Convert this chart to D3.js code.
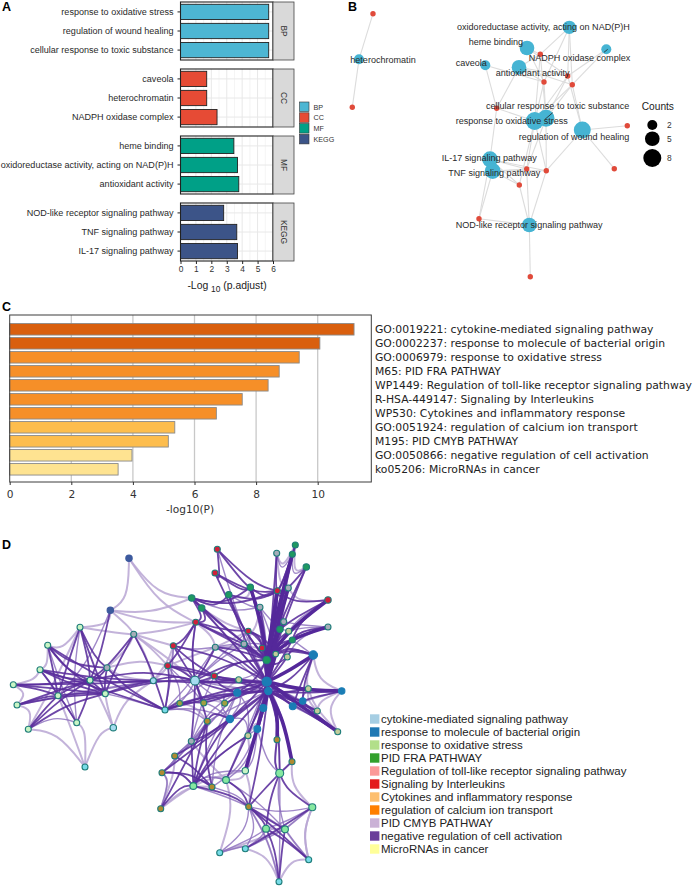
<!DOCTYPE html>
<html><head><meta charset="utf-8">
<script src="https://cdn.jsdelivr.net/npm/d3@7"></script>
<style>html,body{margin:0;padding:0;background:#fff}svg{display:block}
text{font-family:"Liberation Sans",Arial,sans-serif}</style></head><body>
<svg id="c" width="694" height="886"></svg>
<script>
// ---------- Panel A data
const facets=["BP","CC","MF","KEGG"];
const facetColors=["#4db6d3","#e64b35","#00a087","#3c5488"];
const termsBP=["response to oxidative stress","regulation of wound healing","cellular response to toxic substance"];
const valuesBP=[5.72,5.72,5.72];
const termsCC=["caveola","heterochromatin","NADPH oxidase complex"];
const valuesCC=[1.7,1.7,2.37];
const termsMF=["heme binding","oxidoreductase activity, acting on NAD(P)H","antioxidant activity"];
const valuesMF=[3.46,3.7,3.78];
const termsKEGG=["NOD-like receptor signaling pathway","TNF signaling pathway","IL-17 signaling pathway"];
const valuesKEGG=[2.8,3.65,3.7];
// ---------- Panel B data
const bTerms=["heterochromatin","oxidoreductase activity, acting on NAD(P)H","heme binding","NADPH oxidase complex","caveola","antioxidant activity","response to oxidative stress","cellular response to toxic substance","regulation of wound healing","IL-17 signaling pathway","TNF signaling pathway","NOD-like receptor signaling pathway"];
const bCounts=[2,4,5,2,2,5,8,7,7,6,6,5];
const bTermX=[359,569.3,527,606.3,485.3,519,534.7,546,582.3,490,492.7,529.3];
const bTermY=[59.3,27.3,48,49.3,65.3,67.3,121,118.3,130,159.3,171,225];
const bLabelX=[350.3,457,468.7,528.7,455.7,495.7,455.7,486,518.7,441.7,448.3,455.7];
const bLabelY=[59.7,27.3,42.3,57.7,62.7,72.7,121.3,106,136.7,157.7,172.7,225.3];
const bGeneX=[373,352.3,540.3,567.7,572.3,544,496.7,627.3,614.3,526.7,546.3,519.3,479,530.3];
const bGeneY=[13.7,107.3,54.3,76,84.7,82,108.3,125.7,168.7,169,170.7,185,218.7,276.7];
const bEdges=[[0,0],[0,1],[1,2],[1,3],[1,4],[1,5],[2,2],[2,5],[2,3],[3,3],[3,4],[4,6],[4,5],[5,2],[5,5],[5,3],[5,6],[5,4],
[6,2],[6,5],[6,3],[6,4],[6,6],[6,9],[6,10],[6,11],[7,2],[7,5],[7,3],[7,4],[7,10],[7,9],[8,4],[8,7],[8,8],[8,10],[8,3],
[9,6],[9,9],[9,10],[9,11],[9,12],[10,9],[10,10],[10,11],[10,12],[11,9],[11,10],[11,11],[11,12],[11,13]];
const bCountTicks=[2,5,8];
// ---------- Panel C data
const cTerms=["GO:0019221: cytokine-mediated signaling pathway","GO:0002237: response to molecule of bacterial origin","GO:0006979: response to oxidative stress","M65: PID FRA PATHWAY","WP1449: Regulation of toll-like receptor signaling pathway","R-HSA-449147: Signaling by Interleukins","WP530: Cytokines and inflammatory response","GO:0051924: regulation of calcium ion transport","M195: PID CMYB PATHWAY","GO:0050866: negative regulation of cell activation","ko05206: MicroRNAs in cancer"];
const cValues=[11.18,10.07,9.4,8.75,8.39,7.55,6.71,5.36,5.15,3.97,3.52];
const cColors=["#d95f0e","#d95f0e","#f68f28","#f68f28","#f68f28","#f68f28","#f68f28","#fdbd4d","#fdbd4d","#fee391","#fee391"];
const cTicks=[0,2,4,6,8,10];
// ---------- Panel D data
const dLegend=["cytokine-mediated signaling pathway","response to molecule of bacterial origin","response to oxidative stress","PID FRA PATHWAY","Regulation of toll-like receptor signaling pathway","Signaling by Interleukins","Cytokines and inflammatory response","regulation of calcium ion transport","PID CMYB PATHWAY","negative regulation of cell activation","MicroRNAs in cancer"];
const dLegendColors=["#a6cee3","#1f78b4","#b2df8a","#33a02c","#fb9a99","#e31a1c","#fdbf6f","#ff7f00","#cab2d6","#6a3d9a","#ffff99"];
const nodeX=[129,110.3,80,47.7,133.7,173.3,167.7,107,40,90,13.3,153.3,195,105.3,58,17,165,179.7,76.7,113.3,28.3,191.7,195.7,217.3,215,201.7,228.7,250.3,276.7,295.3,292.3,306.3,277.3,288.3,328,260,283.7,328,248.3,280,288.7,292.3,244,262,275.7,287.3,313.3,266.7,215.3,214.3,238.7,266.7,268.3,237.3,308.3,341.7,292.7,302.7,317.3,263.3,230,224.7,203.7,207.3,257.3,248,191.3,277,337.7,174.7,292,162,245.3,279.7,226,193.3,212,160.7,248.7,312.3,266,285,219.7,245.3,308.7,279,85];
const nodeY=[558.3,610.3,627.3,645.3,634.3,645.7,665.7,667.7,669.7,680.3,684.7,680.7,680.7,693.7,695.7,705,710,703.3,722.7,727.7,729.3,598,622.3,549.3,573,608,594.7,587.3,553.3,545,554.3,567,590.7,588,600,607.3,621.7,627,631,629.3,631.3,640,644,648,654,657,655,660,647.3,676,679.7,681.7,691,692.7,688.7,691,706.3,701,711,708,719,703.3,703,721.3,729,735.7,741.3,739.7,731.7,756,761.7,772.7,770.7,773.3,780,786,787,808.7,806.7,807.3,828.7,829.3,852.7,848.7,859.7,881.7,767];
const nodeKind="N N L L Y R R Y L L L S S L L L C O L S L G R R R G G G Y G G G R Y R Y Y Y R G Z G Y R Z Z B G Y R Z B B B Z B B B Z B B O O A B Z Y A Z A A A L M M M A A A M M M C C C C C".split(" ");
const nodeSize=[3.2,3.2,3,3,3,3,3,3,3,3,3,3,4.4,3,3,3,3,2.8,3,3.2,3,3.2,3,3,3,3.2,3.2,3.2,3,3,3,3.2,3,3,3.2,3,3,3,2.8,3.2,3,3,3,2.8,2.8,3,4.2,3.8,3,3,3,4.6,3.6,3.6,3,3.2,3.4,3.2,3,3.4,3.6,3,3,3,3.4,3,3,3,3,3,3,3,3.2,4,3.4,3.4,3,3,3,3.5,3.4,3.4,3,3,3,3,3];
const kindFill={N:"#3d5a9e",B:"#1a7db5",L:"#c8f5c4",G:"#1f9960",R:"#d0203a",Y:"#a5adb8",Z:"#c3cc9a",S:"#a6dcf0",C:"#78dce8",O:"#a0a040",A:"#b08a30",M:"#86e8a0"};
const heavyEdges=[[32,51],[32,47],[33,51],[47,51],[51,52],[46,51],[51,55],[51,68],[52,64],[52,72],[52,67],[27,47],[39,51],[44,51],[52,70],[30,47],[34,47],[37,47]];
const strongEdges=[[10,9],[10,13],[10,11],[3,13],[3,9],[3,14],[8,13],[8,14],[8,9],[15,9],[15,14],[20,9],[20,14],[2,9],[2,14],[2,7],[1,9],[4,9],[9,18],[14,18],[9,11],[13,11],[11,12],[13,12],[3,16],[7,16],[5,12],[6,12],[6,16],[22,5],[22,6],[22,12],[22,21],[22,25],[25,21],[21,27],[21,26],[21,32],[23,24],[23,32],[23,27],[24,32],[24,27],[26,32],[27,32],[28,32],[29,32],[30,32],[31,32],[33,32],[34,32],[34,39],[36,51],[40,51],[41,51],[45,51],[43,51],[38,47],[42,47],[35,51],[27,51],[26,51],[46,47],[46,44],[46,52],[46,45],[52,55],[52,54],[51,58],[52,68],[52,56],[52,57],[51,56],[52,59],[51,59],[53,51],[53,52],[60,52],[60,51],[64,51],[65,51],[67,51],[73,52],[12,49],[12,53],[12,50],[12,51],[49,52],[50,51],[16,62],[16,17],[16,52],[17,52],[61,51],[62,51],[48,51],[48,12],[12,62],[12,63],[63,75],[63,76],[66,75],[66,12],[75,76],[75,65],[75,78],[74,78],[78,80],[78,81],[80,85],[81,85],[80,84],[73,79],[73,80],[71,75],[71,76],[69,76],[77,75],[78,84],[83,79],[77,63],[71,52],[6,51],[5,51],[11,51],[16,51],[49,53],[49,50],[6,49],[5,49],[63,60],[66,60],[75,60],[75,52],[69,60],[78,52],[78,73],[73,67],[73,70],[74,52],[46,56],[46,57],[52,58],[55,57],[68,57],[30,51],[28,51],[29,51],[31,51],[31,47],[24,47],[26,47],[21,47],[25,47],[21,51],[22,42],[22,38],[36,47],[36,44],[39,47],[40,47],[41,47],[44,47],[45,47],[42,51],[38,44],[38,43],[34,41],[37,41],[48,47],[49,47],[53,47],[12,47],[22,47],[3,7],[7,9],[7,13],[2,13],[4,13],[4,16],[8,16],[9,13],[9,14],[10,14],[15,13],[20,13],[14,13],[9,12],[8,11]];
const midEdges=[[25,51],[21,35],[28,30],[29,30],[30,31],[38,51],[43,47],[41,46],[60,53],[65,60],[72,64],[72,75],[74,64],[66,63],[69,66],[69,71],[71,77],[75,74],[76,78],[79,80],[79,81],[79,78],[81,84],[82,80],[83,80],[83,81],[82,83],[83,78],[12,52],[49,51],[5,16],[48,52],[48,16],[16,63],[61,53],[62,53],[17,12],[61,12],[50,49],[35,47],[26,35],[38,42],[36,39],[40,39],[70,51],[72,51],[73,51],[58,52],[54,51],[57,51],[56,57],[49,16],[5,48],[6,17],[6,62],[17,53],[50,52],[16,60],[62,60],[61,60],[63,52],[66,53],[66,49],[75,53],[75,64],[76,64],[76,53],[65,53],[74,51],[73,64],[71,53],[71,66],[69,63],[69,53],[74,81],[75,81],[85,73],[85,78],[81,73],[82,78],[55,56],[68,56],[54,52],[54,57],[32,39],[32,44],[33,47],[23,51],[35,39],[35,44],[42,44],[43,44],[43,45],[34,40],[37,40],[37,36],[37,45],[48,42],[48,44],[50,47],[12,42],[12,38],[22,12],[2,18],[1,14],[3,18],[8,18],[20,18],[13,16],[14,11],[15,11]];
const faintEdges=[[0,1],[0,21],[0,22],[1,2],[1,4],[1,22],[2,3],[2,4],[4,5],[4,22],[4,6],[4,7],[8,3],[8,10],[10,15],[15,20],[20,2],[19,11],[19,9],[13,19],[7,11],[7,6],[86,19],[86,20],[86,14],[86,18],[82,74],[84,79],[85,84],[77,69],[77,71],[79,81],[81,80],[28,33],[29,31],[28,29],[30,33],[34,33],[37,41],[58,55],[68,55],[68,54],[73,70],[84,81],[83,82],[46,54],[54,58],[46,55],[36,33],[35,42],[48,38],[48,43],[85,83],[77,76],[79,70],[72,78],[74,76],[73,67],[5,6],[6,48],[17,63],[61,62],[50,61],[22,48],[25,38],[26,27],[33,36],[45,41],[54,57],[65,64],[65,72],[76,74],[82,81],[79,84],[4,11],[5,11],[6,11],[4,12],[1,21],[78,85],[80,81],[74,72],[77,72],[75,71],[66,74]];
const bundleHubX=[272,268,292,198,100,58,232,180,262,282,192,150];
const bundleHubY=[625,688,700,688,688,688,640,660,790,830,752,640];

const svg=d3.select("#c");
function panelLetter(t,x,y){svg.append("text").attr("x",x).attr("y",y).attr("font-size",12.5).attr("font-weight","700").attr("fill","#000").text(t);}
panelLetter("A",2,11);panelLetter("B",348,11);panelLetter("C",2,311);panelLetter("D",2,549);

// ---------- Panel A
{
 const x=d3.scaleLinear().domain([0,6]).range([180.5,273]);
 const tops=[2,69,136,203],hh=58;
 const terms=[termsBP,termsCC,termsMF,termsKEGG],vals=[valuesBP,valuesCC,valuesMF,valuesKEGG];
 facets.forEach((f,i)=>{
  const y=d3.scaleBand().domain(terms[i]).range([tops[i],tops[i]+hh]).paddingInner(.2).paddingOuter(.12);
  const g=svg.append("g");
  d3.range(0,6.01,.5).forEach(v=>g.append("line").attr("x1",x(v)).attr("x2",x(v)).attr("y1",tops[i]).attr("y2",tops[i]+hh).attr("stroke","#e8e8e8").attr("stroke-width",v%1?0.5:1));
  terms[i].forEach(t=>g.append("line").attr("x1",x(0)).attr("x2",x(6)).attr("y1",y(t)+y.bandwidth()/2).attr("y2",y(t)+y.bandwidth()/2).attr("stroke","#e8e8e8"));
  g.selectAll("rect.b").data(terms[i]).join("rect").attr("x",x(0)).attr("y",d=>y(d)).attr("height",y.bandwidth())
   .attr("width",(d,j)=>x(vals[i][j])-x(0)).attr("fill",facetColors[i]).attr("stroke","#222").attr("stroke-width",.9);
  g.append("rect").attr("x",x(0)).attr("y",tops[i]).attr("width",x(6)-x(0)).attr("height",hh).attr("fill","none").attr("stroke","#222").attr("stroke-width",1.1);
  g.append("rect").attr("x",273).attr("y",tops[i]).attr("width",21).attr("height",hh).attr("fill","#d9d9d9").attr("stroke","#444").attr("stroke-width",.8);
  const sx=283.5,sy=tops[i]+hh/2;
  g.append("text").attr("transform",`translate(${sx},${sy}) rotate(90)`).attr("text-anchor","middle").attr("dy","0.35em").attr("font-size",8.4).attr("fill","#333").text(f);
  const ax=g.append("g").attr("transform",`translate(${x(0)},0)`).call(d3.axisLeft(y).tickSize(3).tickPadding(4));
  ax.select(".domain").remove();
  ax.selectAll("text").attr("font-size",9.05).attr("fill","#2a2a2a").style("font-family",'"Liberation Sans"');
  ax.selectAll("line").attr("stroke","#222");
 });
 const ax=svg.append("g").attr("transform","translate(0,261)").call(d3.axisBottom(x).ticks(6).tickSize(3).tickPadding(2));
 ax.select(".domain").remove();
 ax.selectAll("text").attr("font-size",8.4).attr("fill","#333").style("font-family",'"Liberation Sans"');
 ax.selectAll("line").attr("stroke","#222");
 const tt=svg.append("text").attr("x",227).attr("y",289).attr("text-anchor","middle").attr("font-size",10.4).attr("fill","#222");
 tt.append("tspan").text("-Log ");tt.append("tspan").attr("font-size",8.4).attr("dy",3).text("10");tt.append("tspan").attr("dy",-3).text(" (p.adjust)");
 facets.forEach((f,i)=>{
  const yy=102+i*10.8;
  svg.append("rect").attr("x",299.5).attr("y",yy).attr("width",9.5).attr("height",9.5).attr("fill",facetColors[i]).attr("stroke","#333").attr("stroke-width",.6);
  svg.append("text").attr("x",313.5).attr("y",yy+5).attr("dy","0.35em").attr("font-size",7.2).attr("fill","#333").text(f);
 });
}
// ---------- Panel B
{
 const r=d3.scaleSqrt().domain([2,8]).range([5,9]);
 const g=svg.append("g");
 g.selectAll("line").data(bEdges).join("line").attr("x1",d=>bTermX[d[0]]).attr("y1",d=>bTermY[d[0]]).attr("x2",d=>bGeneX[d[1]]).attr("y2",d=>bGeneY[d[1]]).attr("stroke","#dcdcdc").attr("stroke-width",1.1);
 g.selectAll("circle.g").data(bGeneX).join("circle").attr("class","g").attr("cx",d=>d).attr("cy",(d,i)=>bGeneY[i]).attr("r",2.7).attr("fill","#e04a3a");
 g.selectAll("circle.t").data(bTerms).join("circle").attr("class","t").attr("cx",(d,i)=>bTermX[i]).attr("cy",(d,i)=>bTermY[i]).attr("r",(d,i)=>r(bCounts[i])).attr("fill","#46b4d3");
 const seg=[[552.7,112.7,545,119.3],[607.7,49.3,604,52.3]];
 seg.forEach(s=>g.append("line").attr("x1",s[0]).attr("y1",s[1]).attr("x2",s[2]).attr("y2",s[3]).attr("stroke","#222").attr("stroke-width",.8));
 g.selectAll("text.l").data(bTerms).join("text").attr("class","l").attr("x",(d,i)=>bLabelX[i]).attr("y",(d,i)=>bLabelY[i]).attr("dy","0.35em").attr("font-size",9.05).attr("fill","#2a2a2a").text(d=>d);
 svg.append("text").attr("x",641.7).attr("y",106).attr("dy","0.35em").attr("font-size",10.2).attr("fill","#222").text("Counts");
 const ly=[125,138.7,158];
 bCountTicks.forEach((c,i)=>{
  svg.append("circle").attr("cx",652.3).attr("cy",ly[i]).attr("r",r(c)).attr("fill","#000");
  svg.append("text").attr("x",667).attr("y",ly[i]).attr("dy","0.35em").attr("font-size",8.4).attr("fill","#333").text(c);
 });
}
// ---------- Panel C
{
 const f='"DejaVu Sans"';
 const x=d3.scaleLinear().domain([0,10]).range([9.7,317.7]);
 const y=d3.scaleBand().domain(cTerms).range([322.3,476.3]).paddingInner(.18).paddingOuter(.09);
 const g=svg.append("g");
 cTicks.slice(1).forEach(t=>g.append("line").attr("x1",x(t)).attr("x2",x(t)).attr("y1",315).attr("y2",482).attr("stroke","#c8c8c8").attr("stroke-width",1.3));
 g.selectAll("rect").data(cTerms).join("rect").attr("x",x(0)).attr("y",d=>y(d)).attr("height",y.bandwidth()).attr("width",(d,i)=>x(cValues[i])-x(0)).attr("fill",(d,i)=>cColors[i]).attr("stroke","#8a8a8a").attr("stroke-width",.9);
 g.append("rect").attr("x",9.7).attr("y",315).attr("width",361.6).attr("height",167).attr("fill","none").attr("stroke","#3c3c3c").attr("stroke-width",1);
 g.selectAll("text.t").data(cTerms).join("text").attr("class","t").attr("x",375).attr("y",d=>y(d)+y.bandwidth()/2).attr("dy","0.35em").attr("font-size",10.8).style("font-family",f).attr("fill","#222").text(d=>d);
 const ax=svg.append("g").attr("transform","translate(0,482)").call(d3.axisBottom(x).tickValues(cTicks).tickSize(3).tickPadding(5));
 ax.select(".domain").remove();
 ax.selectAll("text").attr("font-size",10.6).style("font-family",f).attr("fill","#333");
 ax.selectAll("line").attr("stroke","#333");
 svg.append("text").attr("x",190).attr("y",513).attr("text-anchor","middle").attr("font-size",10.6).style("font-family",f).attr("fill","#333").text("-log10(P)");
}
// ---------- Panel D
{
 const x=i=>nodeX[i],y=i=>nodeY[i];
 const line=d3.line().curve(d3.curveBundle.beta(.8));
 function path(e){
  const mx=(x(e[0])+x(e[1]))/2,my=(y(e[0])+y(e[1]))/2;
  let best=0,bd=1e9;
  bundleHubX.forEach((hx,i)=>{const dd=(hx-mx)**2+(bundleHubY[i]-my)**2;if(dd<bd){bd=dd;best=i;}});
  const cx=mx+(bundleHubX[best]-mx)*.35,cy=my+(bundleHubY[best]-my)*.35;
  return line([[x(e[0]),y(e[0])],[cx,cy],[x(e[1]),y(e[1])]]);
 }
 const g=svg.append("g").attr("fill","none");
 g.selectAll("path.f").data(faintEdges).join("path").attr("class","f").attr("d",path).attr("stroke","#b8a6d4").attr("stroke-width",2).attr("opacity",.85);
 g.selectAll("path.m").data(midEdges).join("path").attr("class","m").attr("d",path).attr("stroke","#8a6cbc").attr("stroke-width",1.4).attr("opacity",.8);
 g.selectAll("path.s").data(strongEdges).join("path").attr("class","s").attr("d",path).attr("stroke","#5a2d9c").attr("stroke-width",1.8).attr("opacity",.88);
 g.selectAll("path.h").data(heavyEdges).join("path").attr("class","h").attr("d",path).attr("stroke","#54289a").attr("stroke-width",3.6);
 svg.append("g").selectAll("circle").data(nodeX).join("circle").attr("cx",d=>d).attr("cy",(d,i)=>nodeY[i]).attr("r",(d,i)=>nodeSize[i])
  .attr("fill",(d,i)=>kindFill[nodeKind[i]]).attr("stroke",(d,i)=>"NB".includes(nodeKind[i])?kindFill[nodeKind[i]]:"#1f7d7a").attr("stroke-width",1.1);
 dLegend.forEach((t,i)=>{
  const yy=719+i*13;
  svg.append("rect").attr("x",370).attr("y",yy-4.7).attr("width",9.4).attr("height",9.4).attr("fill",dLegendColors[i]);
  svg.append("text").attr("x",381).attr("y",yy).attr("dy","0.35em").attr("font-size",11.45).attr("fill","#222").text(t);
 });
}
</script></body></html>
